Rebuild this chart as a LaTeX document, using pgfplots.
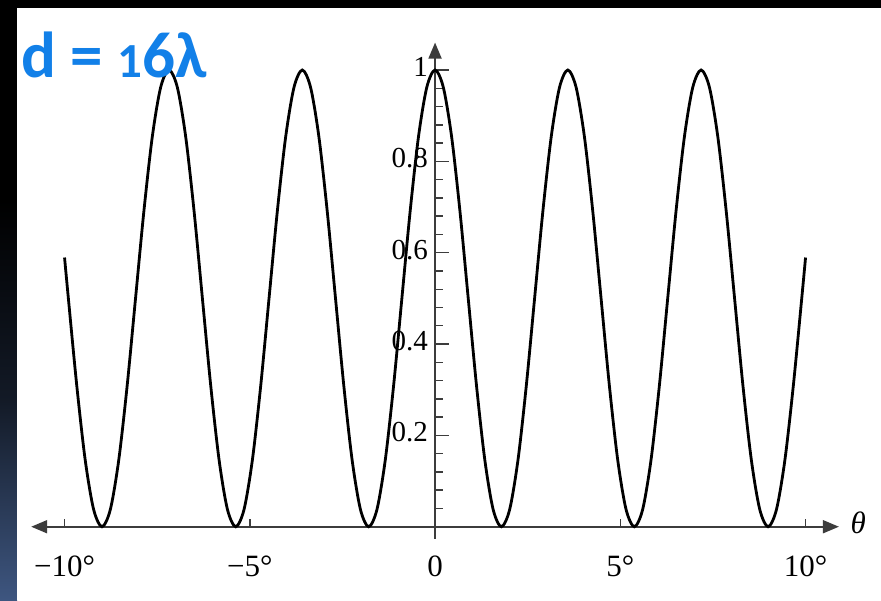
\documentclass[border=0pt]{standalone}
\usepackage{pgfplots}
\pgfplotsset{compat=1.18}
\usepackage{fontspec}
\setmainfont{Liberation Serif}
\newfontfamily\titlefont{Carlito}
\usetikzlibrary{arrows.meta}

\definecolor{titleblue}{RGB}{18,128,232}
\definecolor{axisgray}{RGB}{60,60,60}
\definecolor{bandblue}{RGB}{62,86,128}

% Two-slit pattern, d = 16 lambda: intensity vs angle (degrees)
\pgfplotstableread{
theta I
-10.0000 0.5894
-9.8969 0.5000
-9.6697 0.3087
-9.4428 0.1464
-9.2160 0.0381
-8.9893 0.0000
-8.7628 0.0381
-8.5364 0.1464
-8.3101 0.3087
-8.0840 0.5000
-7.8580 0.6913
-7.6321 0.8536
-7.4064 0.9619
-7.1808 1.0000
-6.9552 0.9619
-6.7298 0.8536
-6.5045 0.6913
-6.2793 0.5000
-6.0542 0.3087
-5.8292 0.1464
-5.6042 0.0381
-5.3794 0.0000
-5.1546 0.0381
-4.9299 0.1464
-4.7053 0.3087
-4.4808 0.5000
-4.2563 0.6913
-4.0319 0.8536
-3.8076 0.9619
-3.5833 1.0000
-3.3591 0.9619
-3.1349 0.8536
-2.9108 0.6913
-2.6867 0.5000
-2.4627 0.3087
-2.2387 0.1464
-2.0147 0.0381
-1.7908 0.0000
-1.5669 0.0381
-1.3430 0.1464
-1.1191 0.3087
-0.8953 0.5000
-0.6715 0.6913
-0.4476 0.8536
-0.2238 0.9619
0.0000 1.0000
0.2238 0.9619
0.4476 0.8536
0.6715 0.6913
0.8953 0.5000
1.1191 0.3087
1.3430 0.1464
1.5669 0.0381
1.7908 0.0000
2.0147 0.0381
2.2387 0.1464
2.4627 0.3087
2.6867 0.5000
2.9108 0.6913
3.1349 0.8536
3.3591 0.9619
3.5833 1.0000
3.8076 0.9619
4.0319 0.8536
4.2563 0.6913
4.4808 0.5000
4.7053 0.3087
4.9299 0.1464
5.1546 0.0381
5.3794 0.0000
5.6042 0.0381
5.8292 0.1464
6.0542 0.3087
6.2793 0.5000
6.5045 0.6913
6.7298 0.8536
6.9552 0.9619
7.1808 1.0000
7.4064 0.9619
7.6321 0.8536
7.8580 0.6913
8.0840 0.5000
8.3101 0.3087
8.5364 0.1464
8.7628 0.0381
8.9893 0.0000
9.2160 0.0381
9.4428 0.1464
9.6697 0.3087
9.8969 0.5000
10.0000 0.5894
}\pattern

\begin{document}
\begin{tikzpicture}[x=1pt,y=1pt]
\useasboundingbox (0,0) rectangle (881,600);
% slide frame
\fill[black] (0,0) rectangle (881,600);
\shade[top color=black, bottom color=bandblue, middle color=black!70!bandblue]
  (0,0) rectangle (17,400);
\fill[white] (17,0) rectangle (881,592);

\begin{axis}[
  at={(31.2pt,61.4pt)}, anchor=south west,
  scale only axis,
  width=807.7pt, height=496.0pt,
  xmin=-10.9, xmax=10.9,
  ymin=-0.026, ymax=1.06,
  axis lines=middle,
  axis line style={draw=axisgray, line width=1.8pt},
  x axis line style={{Triangle[length=16pt,width=13pt]}-{Triangle[length=16pt,width=13pt]}},
  y axis line style={-{Triangle[length=16pt,width=13pt]}},
  hide obscured x ticks=false,
  tick align=inside,
  major tick length=14pt,
  minor tick length=8pt,
  xtick={-10,-5,0,5,10},
  xticklabels={−10°,−5°,0,5°,10°},
  major x tick style={draw=none},
  minor xtick={-10,-5,5,10},
  ytick={0.2,0.4,0.6,0.8,1},
  yticklabels={0.2,0.4,0.6,0.8,1},
  minor ytick={0.04,0.08,0.12,0.16,0.24,0.28,0.32,0.36,0.44,0.48,0.52,0.56,0.64,0.68,0.72,0.76,0.84,0.88,0.92,0.96},
  tick style={draw=axisgray, line width=1.4pt},
  xticklabel style={anchor=base, yshift=-50pt, font=\fontsize{31}{33}\selectfont},
  yticklabel style={anchor=east, xshift=-7pt, yshift=3pt, inner sep=0pt, font=\fontsize{29}{31}\selectfont},
  /pgf/number format/assume math mode=true,
  xlabel={\textit{θ}},
  every axis x label/.style={at={(axis cs:10.85,0)}, anchor=west, xshift=10pt, yshift=4pt, font=\fontsize{31}{33}\selectfont},
  clip=false,
]
\addplot[black, line width=2.8pt, smooth] table[x=theta, y=I] {\pattern};
\end{axis}

\node[anchor=base west, inner sep=0pt, text=titleblue, font=\titlefont\bfseries\fontsize{65}{68}\selectfont]
  at (21,522) {d = {\fontsize{49}{50}\selectfont 1}6λ};
\end{tikzpicture}
\end{document}
